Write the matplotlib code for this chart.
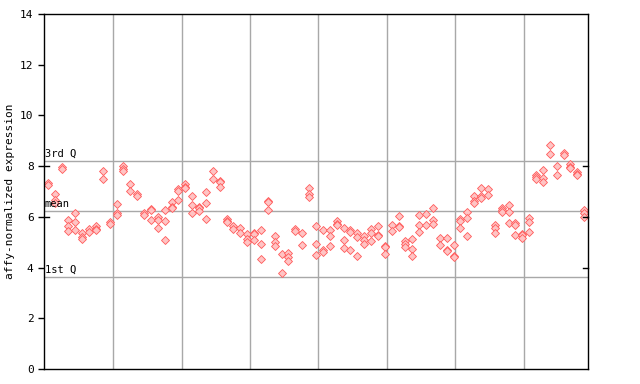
import matplotlib
matplotlib.use("Agg")
import matplotlib.pyplot as plt

# expression values per sample (replicates)
samples = [
    [7.35, 7.25], [6.92, 6.66, 6.56], [7.95, 7.87], [5.89, 5.63, 5.45],
    [6.17, 5.81, 5.5], [5.38, 5.21, 5.12], [5.52, 5.42], [5.64, 5.52, 5.48],
    [7.82, 7.51], [5.8, 5.7], [6.5, 6.17, 6.09], [8.02, 7.88, 7.82],
    [7.28, 7.02], [6.92, 6.81], [6.14, 6.08], [6.31, 6.27, 5.89],
    [5.98, 5.89, 5.58], [6.26, 5.85, 5.07], [6.6, 6.39, 6.33], [7.11, 7.02, 6.68],
    [7.31, 7.16, 7.12], [6.81, 6.45, 6.17], [6.39, 6.35, 6.25], [6.97, 6.56, 5.93],
    [7.79, 7.51], [7.42, 7.36, 7.19], [5.9, 5.82, 5.78], [5.64, 5.51],
    [5.55, 5.38], [5.31, 5.11, 5.02], [5.36, 5.32, 5.09], [5.48, 4.92, 4.33],
    [6.64, 6.58, 6.27], [5.24, 5.02, 4.84], [4.52, 3.77], [4.56, 4.43, 4.26],
    [5.53, 5.45], [5.35, 4.88], [7.12, 6.9, 6.8], [5.62, 4.92, 4.48],
    [5.47, 4.71, 4.63], [5.47, 5.23, 4.84], [5.82, 5.7, 5.66], [5.55, 5.07, 4.76],
    [5.48, 5.39, 4.68], [5.35, 5.2, 4.44], [5.23, 5.09, 4.92], [5.52, 5.35, 5.04],
    [5.62, 5.28, 5.24], [4.84, 4.8, 4.52], [5.66, 5.43], [6.02, 5.64, 5.6],
    [5.05, 4.93, 4.81], [5.11, 4.72, 4.44], [6.06, 5.66, 5.39], [6.1, 5.66],
    [6.34, 5.88, 5.71], [5.16, 4.88], [5.16, 4.69, 4.65], [4.88, 4.47, 4.4],
    [5.9, 5.83, 5.58], [6.21, 5.94, 5.23], [6.82, 6.63, 6.53], [7.12, 6.82, 6.75],
    [7.08, 6.85], [5.66, 5.58, 5.35], [6.34, 6.26, 6.18], [6.46, 6.18, 5.75],
    [5.75, 5.66, 5.27], [5.32, 5.28, 5.16], [5.94, 5.79, 5.39], [7.66, 7.56, 7.48],
    [7.83, 7.52, 7.36], [8.83, 8.46], [7.99, 7.64], [8.5, 8.44],
    [8.07, 7.96, 7.92], [7.76, 7.7, 7.66], [6.26, 6.14, 5.99],
]

q_levels = [8.22, 6.22, 3.62]
q_labels = ["3rd Q", "mean", "1st Q"]
group_lines = [9.5, 19.45, 29.4, 39.35, 49.3, 59.25, 69.2]
y_ticks = [0, 2, 4, 6, 8, 10, 12, 14]

xs = []
ys = []
for i, vals in enumerate(samples):
    for v in vals:
        xs.append(i)
        ys.append(v)

mono = "DejaVu Sans Mono"

fig = plt.figure(figsize=(6.4, 3.84), dpi=100)
ax = fig.add_axes([44 / 640, 15 / 384, 544 / 640, 355 / 384])

for gx in group_lines:
    ax.axvline(gx, color="#a8a8a8", lw=1.0, zorder=1)
for lvl, lab in zip(q_levels, q_labels):
    ax.axhline(lvl, color="#a8a8a8", lw=1.0, zorder=1)
    ax.text(-0.45, lvl + 0.08, lab, fontsize=7.5, family=mono,
            ha="left", va="bottom", zorder=3)

ax.plot(xs, ys, linestyle="none", marker="D", markersize=3.8,
        mfc="#ffc4c4", mec="#ff5a5a", mew=0.6, zorder=2)

ax.set_xlim(-0.55, 78.55)
ax.set_ylim(0, 14)
ax.set_xticks([])
ax.set_yticks(y_ticks)
ax.set_yticklabels([str(t) for t in y_ticks], family=mono, fontsize=8)
ax.tick_params(axis="y", direction="out", length=4, width=1)
ax.set_ylabel("affy-normalized expression", family=mono, fontsize=8)

# short inner ticks on the borders
for t in [4, 6, 8]:
    ax.plot([78.55 - 0.75, 78.55], [t, t], color="black", lw=1, clip_on=False, zorder=4)
for t in [6, 8]:
    ax.plot([-0.55, -0.55 + 0.75], [t, t], color="black", lw=1, clip_on=False, zorder=4)

for s in ax.spines.values():
    s.set_linewidth(1.0)
    s.set_color("black")

fig.savefig("out.png", dpi=100)
